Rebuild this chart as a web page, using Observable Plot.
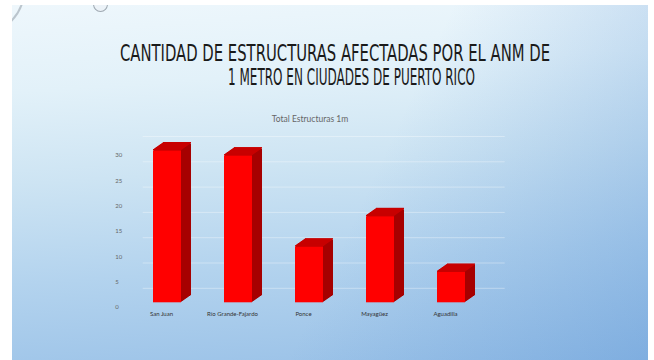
<!DOCTYPE html>
<html>
<head>
<meta charset="utf-8">
<script src="https://cdn.jsdelivr.net/npm/d3@7"></script>
<script src="https://cdn.jsdelivr.net/npm/@observablehq/plot@0.6"></script>
<style>
  html, body { margin: 0; padding: 0; background: #ffffff; }
  #page { position: relative; width: 654px; height: 360px; overflow: hidden; background: #ffffff; }
  #slide {
    position: absolute; left: 12px; top: 5px; width: 636px; height: 355px; overflow: hidden;
    background:
      linear-gradient(115deg, rgba(255,255,255,0) 55%, rgba(80,140,210,0.35) 100%),
      linear-gradient(176deg, #eef7fc 0%, #e2f1f9 22%, #cde4f3 45%, #b3d3ee 70%, #98c0e7 100%);
  }
  .ring { position: absolute; border-radius: 50%; box-sizing: border-box; }
  .tl {
    position: absolute; white-space: nowrap; line-height: 1;
    font-family: "DejaVu Sans Condensed", "DejaVu Sans", sans-serif;
    font-size: 23.3px; color: #1a1a1a; transform-origin: 0 0;
  }
  #sub {
    position: absolute; white-space: nowrap; font-family: Lato, "Open Sans", sans-serif;
    font-size: 8.5px; color: #666; line-height: 1; transform: translate(-50%, -50%);
  }
  #chart { position: absolute; left: 0; top: 0; }
</style>
</head>
<body>
<div id="page">
  <div id="slide">
    <div class="ring" style="left:-77px;top:-60px;width:90px;height:90px;border:2px solid rgba(170,180,190,0.75);"></div>
    <div class="ring" style="left:81px;top:-9px;width:15px;height:16px;border:1.5px solid rgba(140,150,160,0.8);background:rgba(235,240,245,0.6);"></div>
  </div>
  <div class="tl" id="t1">CANTIDAD DE ESTRUCTURAS AFECTADAS POR EL ANM DE</div>
  <div class="tl" id="t2">1 METRO EN CIUDADES DE PUERTO RICO</div>
  <div id="sub" style="left:310px;top:119px;">Total Estructuras 1m</div>
  <div id="chart"></div>
</div>
<script>
// ---- data ----
const cities = ["San Juan", "Río Grande-Fajardo", "Ponce", "Mayagüez", "Aguadilla"];
const values = [30, 29, 11, 17, 6];
const yTicks = [0, 5, 10, 15, 20, 25, 30];

const data = cities.map((c, i) => ({city: c, value: values[i]}));

// ---- title fitting ----
function fit(id, left, top, width) {
  const el = document.getElementById(id);
  const w = el.getBoundingClientRect().width;
  el.style.left = left + "px";
  el.style.top = top + "px";
  el.style.transform = `scaleX(${width / w})`;
}
fit("t1", 120, 40.6, 430);
fit("t2", 228, 65, 247);

// ---- chart ----
const depth = 10;
const extrude = [];
for (let i = 1; i <= depth; i++) {
  extrude.push(Plot.barY(data, {x: "city", y: "value", fill: "#a60000", dx: i, dy: -0.7 * i}));
}
const topFace = [];
for (let i = 0; i <= depth; i++) {
  topFace.push(Plot.barY(data, {x: "city", y1: "value", y2: "value", insetTop: -1.5, fill: "#c80000", dx: i, dy: -0.7 * i}));
}

const chart = Plot.plot({
  width: 654,
  height: 360,
  marginLeft: 108.7,
  marginRight: 144.3,
  marginTop: 150.5,
  marginBottom: 57.7,
  style: {background: "transparent", fontFamily: "Lato, 'Open Sans', sans-serif", overflow: "visible"},
  x: {domain: cities, paddingInner: 0.6, paddingOuter: 0.6, align: 0.5, axis: null},
  y: {domain: [0, 30], axis: null},
  marks: [
    Plot.ruleY(yTicks, {y: d => d, dy: -14.5, stroke: "#ffffff", strokeOpacity: 0.35, insetLeft: 34, insetRight: 5}),
    ...extrude,
    ...topFace,
    Plot.barY(data, {x: "city", y: "value", fill: "#ff0000"}),
    Plot.text(yTicks, {y: d => d, text: d => String(d), frameAnchor: "left", dx: 6, dy: 4.5, fontSize: 6, fill: "#666"}),
    Plot.text(cities, {x: d => d, text: d => d, frameAnchor: "bottom", dx: -6, dy: 13, fontSize: 6, fill: "#333"})
  ]
});
document.getElementById("chart").appendChild(chart);
</script>
</body>
</html>
